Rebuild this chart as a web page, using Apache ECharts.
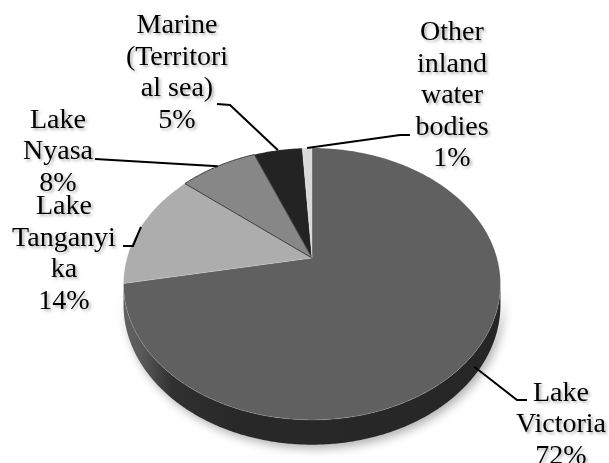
<!DOCTYPE html>
<html lang="en">
<head>
    <meta charset="UTF-8">
    <title>Fish production by water body</title>
    <script src="https://cdn.jsdelivr.net/npm/echarts@6/dist/echarts.min.js"></script>
    <style>
        html, body { margin: 0; padding: 0; background: #fff; }
    </style>
</head>
<body>
    <div id="main" style="width: 609px;height:463px;"></div>
    <script type="text/javascript">
        // data
        const categories = ['Lake Victoria', 'Lake Tanganyika', 'Lake Nyasa', 'Marine (Territorial sea)', 'Other inland water bodies'];
        const shares = [72, 14, 8, 5, 1];
        // wrapped names as they appear on the chart
        const wrappedNames = ['Lake\nVictoria', 'Lake\nTanganyi\nka', 'Lake\nNyasa', 'Marine\n(Territori\nal sea)', 'Other\ninland\nwater\nbodies'];

        // styling
        const topColors = ['#606060', '#adadad', '#878787', '#232323', '#d9d9d9'];
        // label block centre + leader bend points (px)
        const labelCenter = [[561, 425], [64, 254], [58, 152], [177, 73], [452, 96]];
        const leaderBends = [
            [[517, 400], [527, 400]],
            [[133, 246], [123, 246]],
            [[95, 159]],
            [[230, 105], [217, 104]],
            [[400, 135], [410, 135]]
        ];

        const K = 0.191;      // perspective strength
        const DEPTH = 0.153;  // pie thickness in y units
        const total = shares.reduce((a, b) => a + b, 0);
        const starts = [];
        let acc = 0;
        shares.forEach(v => { starts.push(acc / total * Math.PI * 2); acc += v; });

        // angle clockwise from the far side of the pie -> unit coords
        function project(theta, drop) {
            const u = Math.sin(theta), w = -Math.cos(theta);
            const d = 1 - K * w;
            return [u / d, (w + (drop || 0)) / d];
        }
        const sideFrom = Math.acos(-K);
        const sideTo = Math.PI * 2 - Math.acos(-K);

        function sliceAngles(i) {
            return [starts[i], starts[i] + shares[i] / total * Math.PI * 2];
        }

        var myChart = echarts.init(document.getElementById('main'));

        var option = {
            animation: false,
            grid: { left: 127, top: 127, width: 370, height: 262 },
            xAxis: { type: 'value', min: -1, max: 1, show: false },
            yAxis: { type: 'value', min: -1, max: 1, inverse: true, show: false },
            series: [{
                type: 'custom',
                name: 'slices',
                data: shares.map((v, i) => [i, v]),
                renderItem: function (params, api) {
                    const i = params.dataIndex;
                    const [a0, a1] = sliceAngles(i);
                    const children = [];
                    // side face
                    const s0 = Math.max(a0, sideFrom), s1 = Math.min(a1, sideTo);
                    if (s1 > s0) {
                        const pts = [];
                        const n = Math.max(2, Math.ceil((s1 - s0) / 0.01));
                        for (let k = 0; k <= n; k++) pts.push(api.coord(project(s0 + (s1 - s0) * k / n, 0)));
                        for (let k = n; k >= 0; k--) pts.push(api.coord(project(s0 + (s1 - s0) * k / n, DEPTH)));
                        children.push({
                            type: 'polygon',
                            shape: { points: pts },
                            style: {
                                fill: new echarts.graphic.LinearGradient(0, 0, 1, 0, [
                                    { offset: 0, color: '#626262' },
                                    { offset: 0.05, color: '#585858' },
                                    { offset: 0.13, color: '#303030' },
                                    { offset: 0.3, color: '#282828' },
                                    { offset: 1, color: '#262626' }
                                ]),
                                shadowBlur: 10,
                                shadowColor: 'rgba(0,0,0,0.3)',
                                shadowOffsetX: 3,
                                shadowOffsetY: 4
                            }
                        });
                    }
                    // top face
                    const top = [api.coord([0, 0])];
                    const m = Math.max(2, Math.ceil((a1 - a0) / 0.01));
                    for (let k = 0; k <= m; k++) top.push(api.coord(project(a0 + (a1 - a0) * k / m, 0)));
                    children.push({
                        type: 'polygon',
                        shape: { points: top },
                        style: { fill: topColors[i], stroke: i === 2 ? '#3a3a3a' : 'rgba(255,255,255,0.25)', lineWidth: i === 2 ? 1 : 0.6 }
                    });
                    return { type: 'group', children: children };
                }
            }, {
                type: 'custom',
                name: 'labels',
                z: 5,
                data: shares.map((v, i) => [i, v]),
                renderItem: function (params, api) {
                    const i = params.dataIndex;
                    const [a0, a1] = sliceAngles(i);
                    const mid = (a0 + a1) / 2;
                    const start = api.coord(project(mid, i === 0 ? DEPTH * 0.6 : 0));
                    const pts = [start].concat(leaderBends[i]);
                    const c = labelCenter[i];
                    return {
                        type: 'group',
                        children: [{
                            type: 'polyline',
                            shape: { points: pts },
                            style: { stroke: '#000', lineWidth: 2, fill: null }
                        }, {
                            type: 'text',
                            x: c[0],
                            y: c[1],
                            style: {
                                text: wrappedNames[i] + '\n' + shares[i] + '%',
                                font: '28px "Liberation Serif", "Times New Roman", serif',
                                lineHeight: 31.5,
                                align: 'center',
                                verticalAlign: 'middle',
                                fill: '#000',
                                textShadowColor: 'rgba(0,0,0,0.3)',
                                textShadowBlur: 3,
                                textShadowOffsetX: 2,
                                textShadowOffsetY: 2
                            }
                        }]
                    };
                }
            }]
        };

        myChart.setOption(option);
    </script>
</body>
</html>
